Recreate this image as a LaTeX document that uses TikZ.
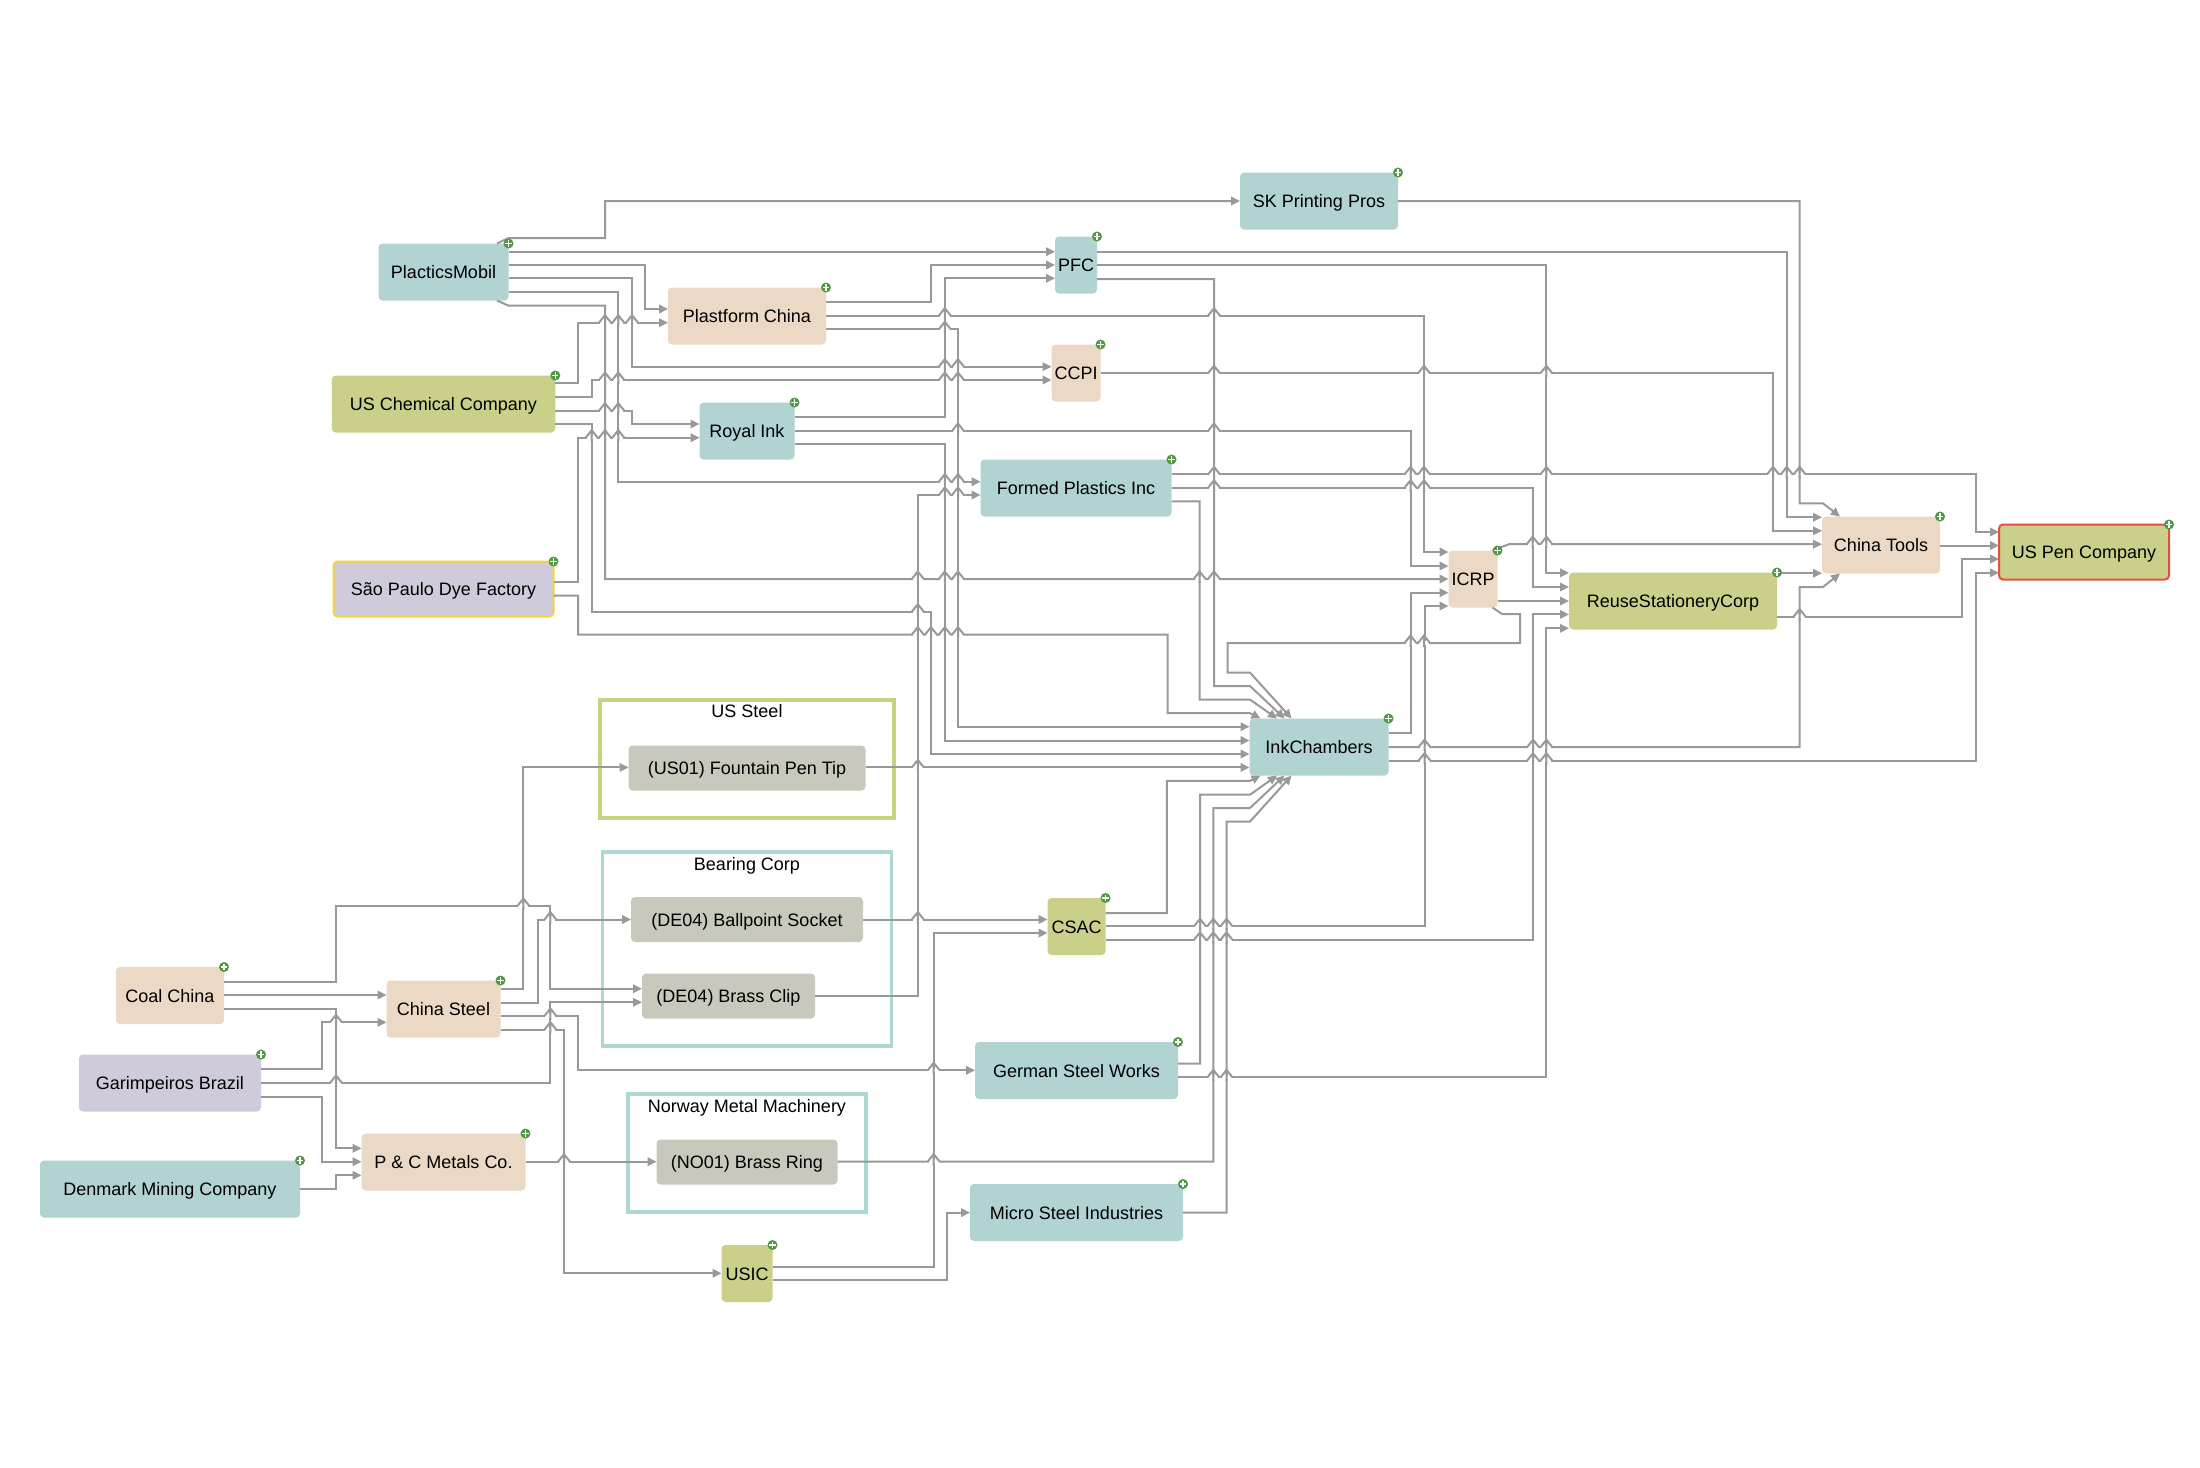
\documentclass[tikz,border=0pt]{standalone}
\usepackage{fontspec}
\setmainfont{Liberation Sans}
\usetikzlibrary{arrows.meta}
\definecolor{tealfill}{RGB}{177,211,210}
\definecolor{tanfill}{RGB}{235,217,198}
\definecolor{olivefill}{RGB}{202,208,138}
\definecolor{lilacfill}{RGB}{208,203,218}
\definecolor{partfill}{RGB}{200,200,188}
\definecolor{oliveframe}{RGB}{200,211,130}
\definecolor{tealframe}{RGB}{175,216,210}
\definecolor{flowgray}{RGB}{153,153,153}
\definecolor{plusgreen}{RGB}{82,150,70}
\definecolor{startline}{RGB}{246,212,60}
\definecolor{endline}{RGB}{232,76,68}
\tikzstyle{firm}=[rounded corners=4pt,minimum height=57pt,inner sep=0pt,outer sep=0pt,text height=13pt,text depth=0pt,font=\fontsize{18}{20}\selectfont]
\tikzstyle{tealbox}=[firm,fill=tealfill]
\tikzstyle{tanbox}=[firm,fill=tanfill]
\tikzstyle{olivebox}=[firm,fill=olivefill]
\tikzstyle{lilacbox}=[firm,fill=lilacfill]
\tikzstyle{partbox}=[firm,fill=partfill,minimum height=45pt]
\tikzstyle{groupframe}=[line width=3.2pt,inner sep=0pt,outer sep=0pt]
\tikzstyle{grouptitle}=[inner sep=0pt,text height=13pt,text depth=0pt,font=\fontsize{18}{20}\selectfont]
\tikzstyle{flow}=[draw=flowgray,line width=2pt,-{Triangle[length=9pt,width=8.5pt]}]
\tikzstyle{plusmark}=[circle,fill=plusgreen,minimum size=10pt,inner sep=0pt,
  path picture={\draw[white,line width=1.4pt]
    ([xshift=1.8pt]path picture bounding box.west) -- ([xshift=-1.8pt]path picture bounding box.east)
    ([yshift=-1.8pt]path picture bounding box.north) -- ([yshift=1.8pt]path picture bounding box.south);}]
\begin{document}
\begin{tikzpicture}[x=1pt,y=-1pt]
\useasboundingbox (0,0) rectangle (2200,1467);

\node [groupframe,draw=oliveframe,minimum width=294pt,minimum height=118pt] (ussteel) at (747,759) {};
\node [groupframe,draw=tealframe,minimum width=289pt,minimum height=194pt] (bearing) at (747,949) {};
\node [groupframe,draw=tealframe,minimum width=238pt,minimum height=118pt] (norway) at (747,1153) {};
\node [grouptitle] (ussteeltitle) at (747,711) {US Steel};
\node [grouptitle] (bearingtitle) at (747,864) {Bearing Corp};
\node [grouptitle] (norwaytitle) at (747,1106) {Norway Metal Machinery};

\node [tealbox,minimum width=130pt] (plastics) at (443.5,272) {PlacticsMobil};
\node [olivebox,minimum width=223.5pt] (uschem) at (443.5,404) {US Chemical Company};
\node [lilacbox,draw=startline,line width=2pt,minimum width=220pt,minimum height=55pt] (saopaulo) at (443.5,589) {São Paulo Dye Factory};
\node [tanbox,minimum width=158pt] (plastform) at (747,316) {Plastform China};
\node [tealbox,minimum width=95pt] (royal) at (747,431) {Royal Ink};
\node [tealbox,minimum width=42pt] (pfc) at (1076,265) {PFC};
\node [tanbox,minimum width=49pt] (ccpi) at (1076,373) {CCPI};
\node [tealbox,minimum width=191pt] (formed) at (1076,488) {Formed Plastics Inc};
\node [tealbox,minimum width=158pt] (sk) at (1319,201) {SK Printing Pros};
\node [tealbox,minimum width=139pt] (ink) at (1319,747) {InkChambers};
\node [tanbox,minimum width=49pt] (icrp) at (1473,579) {ICRP};
\node [olivebox,minimum width=208pt] (reuse) at (1673,601) {ReuseStationeryCorp};
\node [tanbox,minimum width=118pt] (tools) at (1881,545) {China Tools};
\node [olivebox,draw=endline,line width=2pt,minimum width=170pt,minimum height=55pt] (uspen) at (2084,552) {US Pen Company};
\node [partbox,minimum width=237pt] (fountain) at (747,768) {(US01) Fountain Pen Tip};
\node [partbox,minimum width=232pt] (ballpoint) at (747,919.5) {(DE04) Ballpoint Socket};
\node [partbox,minimum width=173pt] (brassclip) at (728.5,996) {(DE04) Brass Clip};
\node [partbox,minimum width=181pt] (brassring) at (747,1162) {(NO01) Brass Ring};
\node [olivebox,minimum width=58pt] (csac) at (1076.5,926.5) {CSAC};
\node [tealbox,minimum width=203pt] (german) at (1076.5,1070.5) {German Steel Works};
\node [tealbox,minimum width=213pt] (micro) at (1076.5,1212.5) {Micro Steel Industries};
\node [tanbox,minimum width=108pt] (coal) at (170,995.5) {Coal China};
\node [lilacbox,minimum width=182pt] (garimp) at (170,1083) {Garimpeiros Brazil};
\node [tealbox,minimum width=260pt] (denmark) at (170,1189) {Denmark Mining Company};
\node [tanbox,minimum width=114pt] (steel) at (443.5,1009) {China Steel};
\node [tanbox,minimum width=164pt] (pcmetals) at (443.5,1162) {P \& C Metals Co.};
\node [olivebox,minimum width=51pt] (usic) at (747,1273.5) {USIC};

\foreach \src/\ys/\xm/\dst/\yd in {
  plastics/251.7/600/pfc/251.7, plastics/265/644.8/plastform/309, plastics/278.3/632/ccpi/366.7,
  plastics/292/618.3/formed/481.7, uschem/383.3/578/plastform/322.7, uschem/397/591.7/ccpi/380,
  uschem/410.7/632/royal/424, saopaulo/582.3/578/royal/437.7, plastform/302.3/931/pfc/265,
  plastform/315.7/1424/icrp/552, plastform/329.3/958/ink/726.7, royal/417.3/944.8/pfc/278.3,
  royal/431/1410.5/icrp/566, royal/444.3/944.8/ink/740.5, ccpi/373.3/1773/tools/530.8,
  pfc/251.7/1786.7/tools/517.3, pfc/265/1546.4/reuse/572.8, formed/474.4/1975.7/uspen/532,
  formed/487.8/1532.7/reuse/587, fountain/767.4/900/ink/767.4, ballpoint/919.5/900/csac/919.5,
  brassclip/996.3/917.8/formed/495, csac/926.3/1424.5/icrp/606, csac/939.8/1533/reuse/614.4,
  german/1077.4/1546.4/reuse/628.3, ink/733.4/1411/icrp/592.7, ink/760.7/1975.7/uspen/572.8,
  icrp/601/1530/reuse/601, reuse/573.2/1800/tools/573.2, reuse/616.6/1962/uspen/559,
  tools/545.5/1970/uspen/545.5, coal/995/300/steel/995, coal/1008.7/336/pcmetals/1148.3,
  garimp/1069.3/321.8/steel/1022.3, garimp/1083/550.4/brassclip/1002.3, garimp/1097/321.8/pcmetals/1161.7,
  denmark/1189/336/pcmetals/1175.3, steel/989/523.4/fountain/767.4, steel/1002.7/537.7/ballpoint/919.5,
  steel/1016/577.5/german/1070.3, steel/1029.7/564/usic/1273.3, pcmetals/1161.7/600/brassring/1161.7,
  usic/1266.7/933.7/csac/933, usic/1280/947.4/micro/1212.6}
  \draw [flow] (\src.east |- 0,\ys) -- (\xm,\ys) |- (\dst.west |- 0,\yd);

\foreach \src/\ys/\xm/\ym/\dx/\side in {
  pfc/279/1214/686/35/north, formed/501.3/1199.6/699.6/27.5/north,
  csac/913/1166.8/780.8/11/south, german/1063.5/1200/794.7/27.5/south,
  brassring/1161.6/1213.3/808/35/south, micro/1212.6/1226.5/821.6/42/south}
  \draw [flow] (\src.east |- 0,\ys) -- (\xm,\ys) -- (\xm,\ym) -- (1250,\ym) -- ([xshift=\dx pt]ink.\side\space west);

\draw [flow] (saopaulo.east |- 0,595.7) -- (578,595.7) -- (578,634.7) -- (1167.5,634.7) -- (1167.5,713.2) -- (1250,713.2) -- ([xshift=11pt]ink.north west);
\draw [flow] ([xshift=-5pt]icrp.south east) -- (1502,614) -- (1520,614) -- (1520,643) -- (1227.6,643) -- (1227.6,672.6) -- (1250,672.6) -- ([xshift=42pt]ink.north west);
\draw [flow] (uschem.east |- 0,424) -- (591.7,424) -- (591.7,611.7) -- (931,611.7) |- (ink.west |- 0,754);
\draw [flow] ([xshift=-11.5pt]plastics.north east) -- (508.6,238) -- (605,238) |- (sk.west |- 0,201);
\draw [flow] ([xshift=-11.5pt]plastics.south east) -- (508.6,305.7) -- (605,305.7) |- (icrp.west |- 0,579);
\draw [flow] (sk.east |- 0,201) -- (1799.6,201) -- (1799.6,503.4) -- (1823,503.4) -- ([xshift=18pt]tools.north west);
\draw [flow] (ink.east |- 0,747.2) -- (1799.6,747.2) -- (1799.6,587) -- (1823,587) -- ([xshift=18pt]tools.south west);
\draw [flow] ([xshift=-5pt]icrp.north east) -- (1509,544.2) |- (tools.west |- 0,544.2);
\draw [flow] (coal.east |- 0,981.7) -- (336,981.7) -- (336,906) -- (550.4,906) |- (brassclip.west |- 0,988.7);

\foreach \y/\xlist in {
  322.7/{605,618.3,632}, 380/{605,618.3,944.8,958}, 410.7/{605,618.3}, 437.7/{591.7,605,618.3},
  366.7/{944.8,958}, 315.7/{944.8,1214}, 329.3/{944.8}, 431/{958,1214}, 481.7/{944.8,958},
  495/{944.8,958}, 579/{917.8,944.8,958,1199.6,1214}, 611.7/{917.8}, 634.7/{917.8,931,944.8,958},
  373.3/{1214,1424,1546.4}, 474.4/{1214,1410.5,1424,1546.4,1773,1786.7,1799.6},
  487.8/{1214,1410.5,1424}, 544.2/{1532.7,1546.4}, 616.6/{1799.6}, 643/{1410.5,1424},
  747.2/{1424.5,1533,1546.4}, 760.7/{1424.5,1533,1546.4}, 767.4/{917.8}, 919.5/{917.8},
  926.3/{1200,1213.3,1226.5}, 939.8/{1200,1213.3,1226.5}, 1077.4/{1213.3,1226.5},
  1070.3/{933.7}, 1161.6/{933.7}, 906/{523.4}, 919.6/{550.4}, 1016/{550.4}, 1029.7/{550.4},
  1022.3/{336}, 1083/{336}, 1161.7/{564}}
  \foreach \x in \xlist {
    \draw [white,line width=3.2pt] (\x-5,\y) -- (\x+5,\y);
    \draw [flowgray,line width=2pt] (\x-6,\y) -- (\x,\y-7.5) -- (\x+6,\y) (\x,\y-8) -- (\x,\y+4);
  }

\foreach \firm in {plastics,uschem,saopaulo,plastform,royal,pfc,ccpi,formed,sk,ink,icrp,reuse,tools,uspen,csac,german,micro,coal,garimp,denmark,steel,pcmetals,usic}
  \node [plusmark] (\firm plus) at (\firm.north east) {};
\end{tikzpicture}
\end{document}
